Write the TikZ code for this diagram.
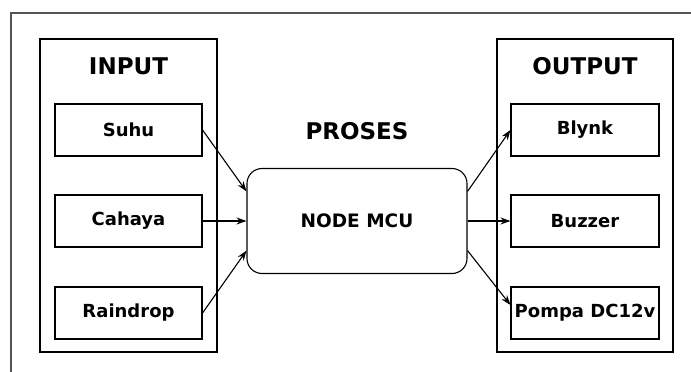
\documentclass[tikz,border=0pt]{standalone}
\usepackage{fontspec}
\setmainfont{DejaVu Sans}
\usetikzlibrary{arrows.meta}
\definecolor{framegray}{RGB}{85,85,85}

\begin{document}
\begin{tikzpicture}[x=1pt, y=-1pt, line width=1.1pt,
  item/.style={draw, minimum width=147pt, minimum height=52pt, inner sep=0pt,
    font=\fontsize{18}{21}\selectfont\bfseries},
  group/.style={draw, minimum width=177pt, minimum height=313pt, inner sep=0pt},
  title/.style={font=\fontsize{23}{26}\selectfont\bfseries},
  arr/.style={-{Stealth[length=10pt, width=7pt]}}]
\useasboundingbox (0,0) rectangle (691,372);
\fill[white] (0,0) rectangle (691,372);
\draw[framegray] (11,372) -- (11,13) -- (691,13);
% input side
\node[group] (ingrp) at (128.5,195.5) {};
\node[title] (intitle) at (128.5,66) {INPUT};
\node[item] (suhu) at (128.5,130) {Suhu};
\node[item] (cahaya) at (128.5,221) {Cahaya};
\node[item] (rain) at (128.5,313) {Raindrop};
% process
\node[title] (proses) at (357,131) {PROSES};
\node[draw, rounded corners=15pt, minimum width=220pt, minimum height=105pt,
  font=\fontsize{18.5}{21}\selectfont\bfseries] (mcu) at (357,221) {NODE MCU};
% output side
\node[group, minimum width=176pt] (outgrp) at (585,195.5) {};
\node[title] (outtitle) at (585,66) {OUTPUT};
\node[item, minimum width=148pt] (blynk) at (585,130) {Blynk};
\node[item, minimum width=148pt] (buzzer) at (585,221) {Buzzer};
\node[item, minimum width=148pt] (pompa) at (585,313) {Pompa DC12v};
\draw[arr] (suhu.east) -- (mcu.165);
\draw[arr] (cahaya.east) -- (mcu.west);
\draw[arr] (rain.east) -- (mcu.195);
\draw[arr] (mcu.15) -- (blynk.west);
\draw[arr] (mcu.east) -- (buzzer.west);
\draw[arr] (mcu.-15) -- ([yshift=8pt]pompa.west);
\end{tikzpicture}
\end{document}
